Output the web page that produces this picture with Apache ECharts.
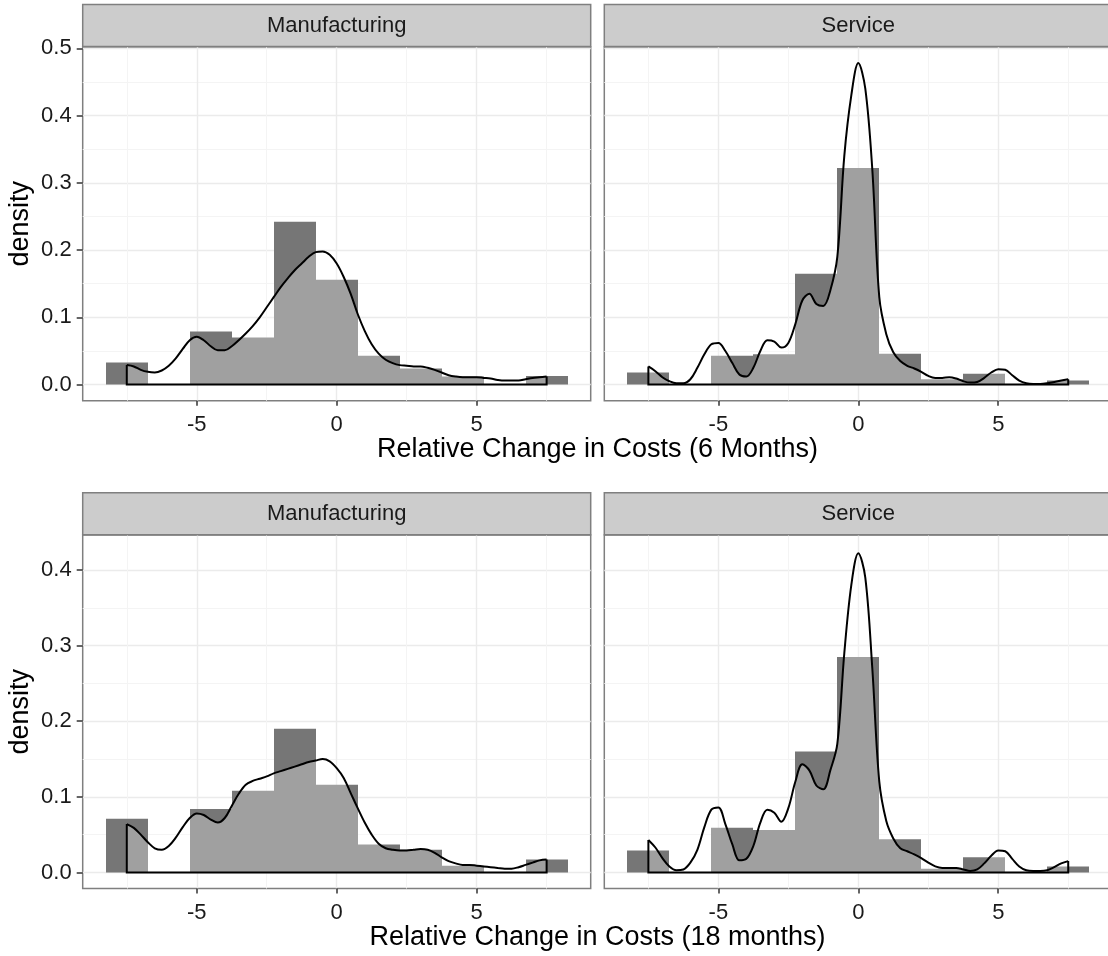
<!DOCTYPE html>
<html>
<head>
<meta charset="utf-8">
<script src="https://cdn.jsdelivr.net/npm/echarts@6/dist/echarts.min.js"></script>
<style>
  html, body { margin: 0; padding: 0; background: #ffffff; }
  #chart { width: 1108px; height: 956px; }
</style>
</head>
<body>
<div id="chart"></div>
<script>
// ---- histogram bins (width 1.5) ----
const binCenters = [-7.5, -6, -4.5, -3, -1.5, 0, 1.5, 3, 4.5, 6, 7.5];
const histManuf6   = [0.033, 0, 0.079, 0.070, 0.242, 0.156, 0.043, 0.024, 0.012, 0, 0.013];
const histService6 = [0.018, 0, 0.043, 0.045, 0.165, 0.322, 0.046, 0.008, 0.016, 0, 0.006];
const histManuf18  = [0.071, 0, 0.084, 0.108, 0.190, 0.116, 0.037, 0.030, 0.009, 0, 0.017];
const histService18 = [0.029, 0, 0.059, 0.056, 0.160, 0.285, 0.044, 0.005, 0.020, 0, 0.008];

// ---- kernel density curves ----
const densityX = [-7.5, -7.25, -7, -6.75, -6.5, -6.25, -6, -5.75, -5.5, -5.25, -5, -4.75, -4.5, -4.25, -4, -3.75,
  -3.5, -3.25, -3, -2.75, -2.5, -2.25, -2, -1.75, -1.5, -1.25, -1, -0.75, -0.5, -0.25, 0, 0.25, 0.5, 0.75,
  1, 1.25, 1.5, 1.75, 2, 2.25, 2.5, 2.75, 3, 3.25, 3.5, 3.75, 4, 4.25, 4.5, 4.75, 5, 5.25, 5.5, 5.75,
  6, 6.25, 6.5, 6.75, 7, 7.25, 7.5];
const densManuf6 = [0.029, 0.027, 0.022, 0.019, 0.018, 0.021, 0.028, 0.039, 0.053, 0.066, 0.071, 0.066, 0.057, 0.051, 0.051, 0.057,
  0.066, 0.076, 0.087, 0.100, 0.115, 0.130, 0.145, 0.158, 0.170, 0.180, 0.190, 0.197, 0.198, 0.193, 0.180, 0.160, 0.135, 0.105,
  0.080, 0.060, 0.046, 0.037, 0.032, 0.029, 0.028, 0.027, 0.027, 0.025, 0.022, 0.018, 0.014, 0.012, 0.011, 0.011, 0.011, 0.010, 0.009, 0.007,
  0.006, 0.006, 0.006, 0.008, 0.010, 0.011, 0.012];
const densService6 = [0.027, 0.020, 0.011, 0.005, 0.002, 0.002, 0.008, 0.025, 0.045, 0.060, 0.062, 0.050, 0.032, 0.015, 0.012, 0.025,
  0.050, 0.066, 0.064, 0.055, 0.062, 0.090, 0.125, 0.135, 0.120, 0.117, 0.140, 0.190, 0.340, 0.430, 0.478, 0.440, 0.320, 0.130,
  0.075, 0.048, 0.035, 0.028, 0.024, 0.019, 0.013, 0.010, 0.010, 0.011, 0.009, 0.005, 0.003, 0.004, 0.010, 0.018, 0.023, 0.022, 0.014, 0.006,
  0.002, 0.001, 0.001, 0.002, 0.004, 0.006, 0.008];
const densManuf18 = [0.064, 0.059, 0.050, 0.040, 0.032, 0.030, 0.035, 0.046, 0.060, 0.072, 0.078, 0.076, 0.070, 0.066, 0.072, 0.088,
  0.104, 0.116, 0.121, 0.124, 0.127, 0.131, 0.134, 0.137, 0.140, 0.143, 0.146, 0.148, 0.150, 0.147, 0.138, 0.125, 0.105, 0.085,
  0.066, 0.050, 0.038, 0.032, 0.030, 0.029, 0.029, 0.030, 0.031, 0.030, 0.026, 0.020, 0.015, 0.012, 0.010, 0.010, 0.009, 0.008, 0.007, 0.006,
  0.005, 0.005, 0.007, 0.010, 0.013, 0.016, 0.017];
const densService18 = [0.043, 0.033, 0.019, 0.008, 0.003, 0.004, 0.013, 0.030, 0.060, 0.083, 0.086, 0.064, 0.037, 0.016, 0.018, 0.035,
  0.066, 0.083, 0.079, 0.067, 0.085, 0.120, 0.143, 0.135, 0.115, 0.110, 0.135, 0.170, 0.290, 0.380, 0.422, 0.390, 0.270, 0.120,
  0.068, 0.045, 0.032, 0.028, 0.024, 0.019, 0.013, 0.008, 0.006, 0.006, 0.006, 0.004, 0.002, 0.004, 0.012, 0.022, 0.029, 0.028, 0.018, 0.008,
  0.003, 0.002, 0.002, 0.003, 0.007, 0.012, 0.015];

// ---- axis ticks ----
const xTicks = [-5, 0, 5];
const xMinorTicks = [-7.5, -2.5, 2.5, 7.5];
const yTicksTop = [0, 0.1, 0.2, 0.3, 0.4, 0.5];
const yMinorTop = [0.05, 0.15, 0.25, 0.35, 0.45];
const yTicksBottom = [0, 0.1, 0.2, 0.3, 0.4];
const yMinorBottom = [0.05, 0.15, 0.25, 0.35];

const facetNames = ['Manufacturing', 'Service'];
const xTitles = ['Relative Change in Costs (6 Months)', 'Relative Change in Costs (18 months)'];
const yTitle = 'density';

// ---- layout / style ----
const FONT = '"Liberation Sans", Arial, Helvetica, sans-serif';
const BIN_HALF = 0.75;
const X_RANGE = [-9.075, 9.075];
const ROWS = [
  { top: 47, height: 353.7, yMin: -0.0239, yMax: 0.5019, ticks: yTicksTop, minor: yMinorTop, stripTop: 4.5 },
  { top: 535, height: 353.5, yMin: -0.0212, yMax: 0.4462, ticks: yTicksBottom, minor: yMinorBottom, stripTop: 492.8 }
];
const COLS = [ { left: 82.7 }, { left: 604.3 } ];
const PANEL_W = 508;
const STRIP_H = 42;
const BORDER = '#7f7f7f';
const panels = [
  { row: 0, col: 0, hist: histManuf6, dens: densManuf6 },
  { row: 0, col: 1, hist: histService6, dens: densService6 },
  { row: 1, col: 0, hist: histManuf18, dens: densManuf18 },
  { row: 1, col: 1, hist: histService18, dens: densService18 }
];

const grids = [], xAxes = [], yAxes = [], series = [], graphics = [];

panels.forEach((p, i) => {
  const r = ROWS[p.row], c = COLS[p.col];
  grids.push({
    left: c.left, top: r.top, width: PANEL_W, height: r.height,
    outerBoundsMode: 'none', containLabel: false,
    show: true, borderColor: BORDER, borderWidth: 1.5, backgroundColor: 'transparent'
  });
  const showY = p.col === 0;
  // major x axis (ticks and labels)
  xAxes.push({
    type: 'value', gridIndex: i, min: X_RANGE[0], max: X_RANGE[1], position: 'bottom',
    axisLine: { show: false, onZero: false },
    axisTick: { show: true, customValues: xTicks, length: 5, lineStyle: { color: '#333333', width: 1.5 } },
    axisLabel: { show: true, customValues: xTicks, margin: 13, fontSize: 22, fontFamily: FONT, color: '#1a1a1a',
      formatter: v => String(v) },
    splitLine: { show: true, lineStyle: { color: '#ebebeb', width: 1.4 } }
  });
  // minor x grid lines
  xAxes.push({
    type: 'value', gridIndex: i, min: X_RANGE[0], max: X_RANGE[1], position: 'top',
    axisLine: { show: false, onZero: false },
    axisTick: { show: false, customValues: xMinorTicks },
    axisLabel: { show: false, customValues: xMinorTicks },
    splitLine: { show: true, lineStyle: { color: '#f4f4f4', width: 1 } }
  });
  // major y axis
  yAxes.push({
    type: 'value', gridIndex: i, min: r.yMin, max: r.yMax, position: 'left',
    axisLine: { show: false, onZero: false },
    axisTick: { show: showY, customValues: r.ticks, length: 6, lineStyle: { color: '#333333', width: 1.5 } },
    axisLabel: { show: showY, customValues: r.ticks, margin: 11, fontSize: 22, fontFamily: FONT, color: '#1a1a1a',
      formatter: v => v.toFixed(1) },
    splitLine: { show: true, lineStyle: { color: '#ebebeb', width: 1.4 } }
  });
  // minor y grid lines
  yAxes.push({
    type: 'value', gridIndex: i, min: r.yMin, max: r.yMax, position: 'right',
    axisLine: { show: false, onZero: false },
    axisTick: { show: false, customValues: r.minor },
    axisLabel: { show: false, customValues: r.minor },
    splitLine: { show: true, lineStyle: { color: '#f4f4f4', width: 1 } }
  });

  const xi = 2 * i, yi = 2 * i;
  // histogram bars (edges snapped to whole pixels so neighbouring bars meet cleanly)
  series.push({
    type: 'custom', xAxisIndex: xi, yAxisIndex: yi, z: 2, silent: true,
    data: binCenters.map((b, k) => [b, p.hist[k]]),
    renderItem(params, api) {
      const ctr = api.value(0), h = api.value(1);
      if (!h) return null;
      const p0 = api.coord([ctr - BIN_HALF, h]);
      const p1 = api.coord([ctr + BIN_HALF, 0]);
      const x0 = Math.round(p0[0]), x1 = Math.round(p1[0]);
      return {
        type: 'rect',
        shape: { x: x0, y: p0[1], width: x1 - x0, height: p1[1] - p0[1] },
        style: { fill: '#767676' }
      };
    }
  });
  // density curve with translucent white fill
  series.push({
    type: 'line', xAxisIndex: xi, yAxisIndex: yi, z: 3, silent: true,
    data: densityX.map((x, k) => [x, p.dens[k]]),
    smooth: 0.35, showSymbol: false, symbol: 'none',
    lineStyle: { color: '#000000', width: 2 },
    areaStyle: { color: 'rgba(255,255,255,0.31)', origin: 'auto', opacity: 1 }
  });
  // closing outline of the density polygon (ends and baseline)
  const xa = densityX[0], xb = densityX[densityX.length - 1];
  series.push({
    type: 'line', xAxisIndex: xi, yAxisIndex: yi, z: 4, silent: true,
    data: [[xa, p.dens[0]], [xa, 0], [xb, 0], [xb, p.dens[p.dens.length - 1]]],
    smooth: false, showSymbol: false, symbol: 'none',
    lineStyle: { color: '#000000', width: 2, join: 'miter' }
  });

  // facet strip
  graphics.push({
    type: 'rect', z: 10,
    shape: { x: c.left, y: r.stripTop, width: PANEL_W, height: STRIP_H },
    style: { fill: '#cccccc', stroke: BORDER, lineWidth: 1.5 }
  });
  graphics.push({
    type: 'text', z: 11,
    x: c.left + PANEL_W / 2, y: r.stripTop + STRIP_H / 2,
    style: { text: facetNames[p.col], font: '22px ' + FONT, fill: '#1a1a1a',
      textAlign: 'center', align: 'center', textVerticalAlign: 'middle', verticalAlign: 'middle' }
  });
});

// axis titles
ROWS.forEach((r, k) => {
  graphics.push({
    type: 'text', z: 11, x: 21, y: r.top + r.height / 2, rotation: Math.PI / 2,
    style: { text: yTitle, font: '27px ' + FONT, fill: '#000000',
      textAlign: 'center', align: 'center', textVerticalAlign: 'middle', verticalAlign: 'middle' }
  });
  graphics.push({
    type: 'text', z: 11, x: 597.5, y: r.top + r.height + 49,
    style: { text: xTitles[k], font: '27px ' + FONT, fill: '#000000',
      textAlign: 'center', align: 'center', textVerticalAlign: 'middle', verticalAlign: 'middle' }
  });
});

const chart = echarts.init(document.getElementById('chart'), null, { renderer: 'canvas' });
chart.setOption({
  animation: false,
  backgroundColor: '#ffffff',
  grid: grids,
  xAxis: xAxes,
  yAxis: yAxes,
  series: series,
  graphic: { elements: graphics }
});
</script>
</body>
</html>
